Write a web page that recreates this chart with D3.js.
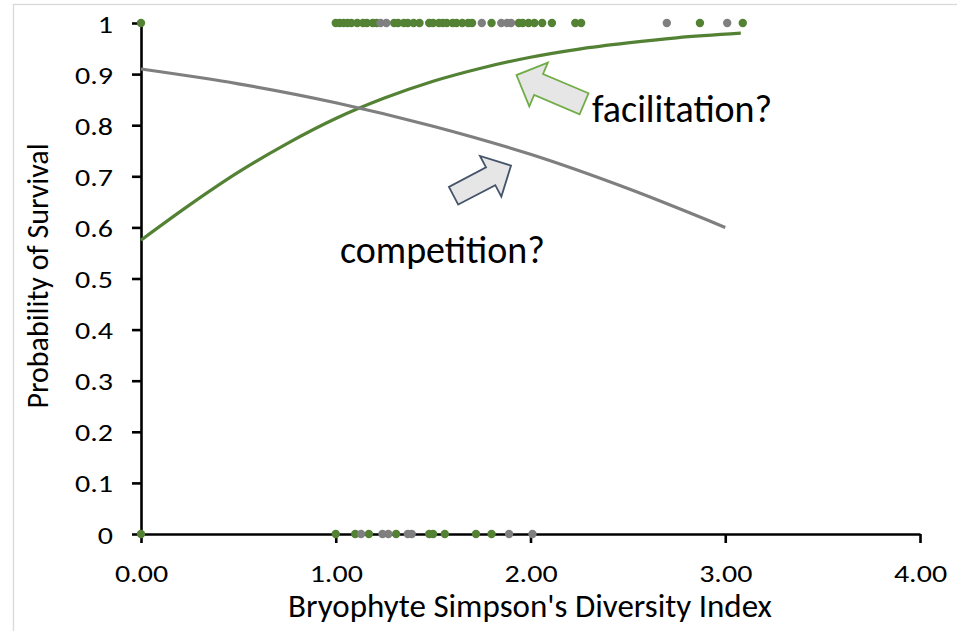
<!DOCTYPE html>
<html>
<head>
<meta charset="utf-8">
<script src="https://cdn.jsdelivr.net/npm/d3@7"></script>
<style>
  body { margin: 0; background: #fff; }
  text { font-family: Carlito, Calibri, Lato, sans-serif; fill: #000; }
</style>
</head>
<body>
<div id="chart-area"></div>
<script>
// tick labels
var xTicks = [0, 1, 2, 3, 4];
var xTickLabels = ["0.00", "1.00", "2.00", "3.00", "4.00"];
var yTicks = [0, 0.1, 0.2, 0.3, 0.4, 0.5, 0.6, 0.7, 0.8, 0.9, 1];
var yTickLabels = ["0", "0.1", "0.2", "0.3", "0.4", "0.5", "0.6", "0.7", "0.8", "0.9", "1"];

// observed survival (1 = survived, 0 = died), by diversity index
var greenTop = [0, 1.00, 1.02, 1.04, 1.06, 1.08, 1.11, 1.14, 1.16, 1.19, 1.21, 1.30, 1.32, 1.35,
  1.37, 1.40, 1.43, 1.48, 1.50, 1.53, 1.55, 1.57, 1.60, 1.62, 1.65, 1.68, 1.70, 1.80, 1.94,
  1.96, 1.99, 2.02, 2.06, 2.11, 2.23, 2.26, 2.87, 3.09];
var grayTop = [1.23, 1.26, 1.75, 1.85, 1.88, 1.90, 2.70, 3.01];
var greenBottom = [0, 1.00, 1.10, 1.17, 1.31, 1.48, 1.50, 1.56, 1.72, 1.80];
var grayBottom = [1.13, 1.24, 1.27, 1.37, 1.39, 1.89, 2.01];

// fitted curves
var greenCurveX = [0, 0.25, 0.5, 0.75, 1, 1.25, 1.5, 1.75, 2, 2.25, 2.5, 2.75, 3.08];
var greenCurveY = [0.575, 0.644, 0.708, 0.764, 0.813, 0.853, 0.886, 0.912, 0.933, 0.949, 0.961, 0.971, 0.98];
var grayCurveX = [0, 0.5, 1, 1.5, 2, 2.5, 3];
var grayCurveY = [0.91, 0.881, 0.844, 0.798, 0.743, 0.676, 0.60];

var green = "#548235", gray = "#7f7f7f";
var stretch = 1.2; // tick labels in the original look a bit wide

var width = 957, height = 631;
var svg = d3.select("#chart-area").append("svg")
    .attr("width", width)
    .attr("height", height);

// chart border
svg.append("rect")
    .attr("x", 13.5).attr("y", 4.5)
    .attr("width", 980).attr("height", 660)
    .attr("fill", "none")
    .attr("stroke", "#d9d9d9")
    .attr("stroke-width", 1.3);

var x = d3.scaleLinear().domain([0, 4]).range([141, 920]);
var y = d3.scaleLinear().domain([0, 1]).range([534, 23]);

// x axis
var xAxis = svg.append("g")
    .attr("transform", "translate(0," + y(0) + ")")
    .call(d3.axisBottom(x).tickValues(xTicks)
        .tickFormat(function (d, i) { return xTickLabels[i]; })
        .tickSize(9).tickSizeOuter(0));
xAxis.select(".domain").attr("stroke", "#000").attr("stroke-width", 2.6);
xAxis.selectAll(".tick line").attr("stroke", "#000").attr("stroke-width", 2.6);
xAxis.selectAll(".tick text")
    .attr("y", 48).attr("dy", 0)
    .attr("transform", "scale(" + stretch + ",1)")
    .attr("font-size", "25px")
    .style("font-family", "Carlito, Calibri, Lato, sans-serif");

// y axis
var yAxis = svg.append("g")
    .attr("transform", "translate(" + x(0) + ",0)")
    .call(d3.axisLeft(y).tickValues(yTicks)
        .tickFormat(function (d, i) { return yTickLabels[i]; })
        .tickSize(9).tickSizeOuter(0));
yAxis.select(".domain").attr("stroke", "#000").attr("stroke-width", 2.6);
yAxis.selectAll(".tick line").attr("stroke", "#000").attr("stroke-width", 2.6);
yAxis.selectAll(".tick text")
    .attr("x", -28 / stretch).attr("dy", "0.36em")
    .attr("transform", "scale(" + stretch + ",1)")
    .attr("font-size", "25px")
    .style("font-family", "Carlito, Calibri, Lato, sans-serif");

// axis titles
svg.append("text")
    .attr("x", 530).attr("y", 617)
    .attr("text-anchor", "middle")
    .attr("font-size", "33px")
    .text("Bryophyte Simpson's Diversity Index");

svg.append("text")
    .attr("transform", "translate(48,276) rotate(-90)")
    .attr("text-anchor", "middle")
    .attr("font-size", "30px")
    .text("Probability of Survival");

// curves
var line = d3.line()
    .x(function (d) { return x(d[0]); })
    .y(function (d) { return y(d[1]); })
    .curve(d3.curveMonotoneX);

svg.append("path")
    .datum(greenCurveX.map(function (v, i) { return [v, greenCurveY[i]]; }))
    .attr("d", line)
    .attr("fill", "none")
    .attr("stroke", green)
    .attr("stroke-width", 3.2);

svg.append("path")
    .datum(grayCurveX.map(function (v, i) { return [v, grayCurveY[i]]; }))
    .attr("d", line)
    .attr("fill", "none")
    .attr("stroke", gray)
    .attr("stroke-width", 3.2);

// observed points
function dots(xs, val, col) {
  svg.append("g").selectAll("circle")
      .data(xs)
      .enter()
      .append("circle")
      .attr("cx", function (d) { return x(d); })
      .attr("cy", y(val))
      .attr("r", 4.2)
      .attr("fill", col);
}
dots(greenTop, 1, green);
dots(grayTop, 1, gray);
dots(greenBottom, 0, green);
dots(grayBottom, 0, gray);

// block arrows (anchors in data units)
function blockArrow(tail, tip, shaftHalf, headHalf, headLen, stroke) {
  var tx = x(tail[0]), ty = y(tail[1]);
  var px = x(tip[0]), py = y(tip[1]);
  var len = Math.hypot(px - tx, py - ty);
  var ux = (px - tx) / len, uy = (py - ty) / len;
  var nx = -uy, ny = ux;
  var bx = px - ux * headLen, by = py - uy * headLen;
  var pts = [
    [tx + nx * shaftHalf, ty + ny * shaftHalf],
    [bx + nx * shaftHalf, by + ny * shaftHalf],
    [bx + nx * headHalf, by + ny * headHalf],
    [px, py],
    [bx - nx * headHalf, by - ny * headHalf],
    [bx - nx * shaftHalf, by - ny * shaftHalf],
    [tx - nx * shaftHalf, ty - ny * shaftHalf]
  ];
  svg.append("polygon")
      .attr("points", pts.map(function (p) { return p.join(","); }).join(" "))
      .attr("fill", "#e7e6e6")
      .attr("stroke", stroke)
      .attr("stroke-width", 1.8)
      .attr("stroke-linejoin", "miter");
}
blockArrow([2.275, 0.842], [1.928, 0.898], 11.4, 23.8, 24, "#70ad47");
blockArrow([1.605, 0.662], [1.900, 0.721], 10, 23, 23, "#44546a");

// annotations
svg.append("text")
    .attr("x", 592).attr("y", 122)
    .attr("font-size", "38px")
    .text("facilitation?");

svg.append("text")
    .attr("x", 340).attr("y", 263)
    .attr("font-size", "38px")
    .text("competition?");
</script>
</body>
</html>
